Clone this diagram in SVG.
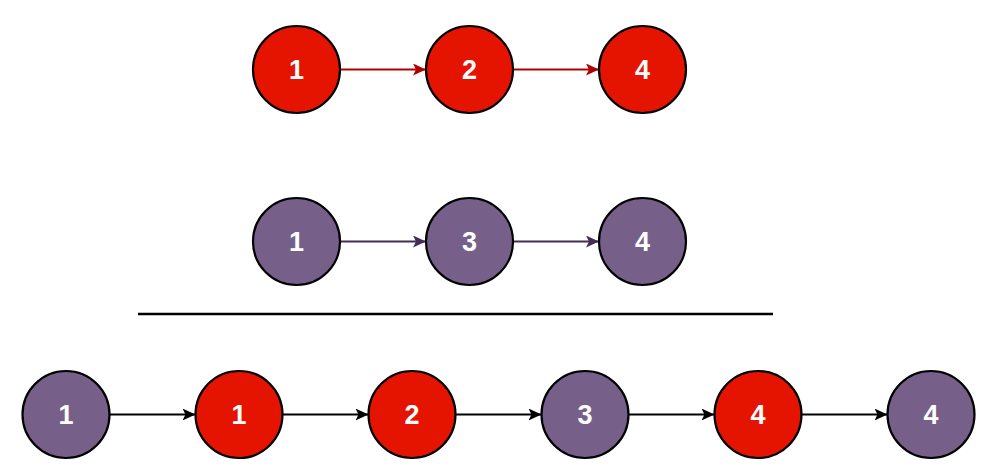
<svg xmlns="http://www.w3.org/2000/svg" width="998" height="471" viewBox="0 0 998 471">
<style>
.red{fill:#e51400;stroke:#000;stroke-width:2.2}
.pur{fill:#76608a;stroke:#000;stroke-width:2.2}
.lbl{font-family:"Liberation Sans",Arial,sans-serif;font-weight:bold;font-size:27px;fill:#fff;text-anchor:middle}
.e{fill:none;stroke-width:2}
</style>
<defs>
<marker id="aR" viewBox="0 0 13 12" refX="12.5" refY="6" markerWidth="13" markerHeight="12" markerUnits="userSpaceOnUse" orient="auto"><path d="M0,0 L13,6 L0,12 L3,6 Z" fill="#b20000"/></marker>
<marker id="aP" viewBox="0 0 13 12" refX="12.5" refY="6" markerWidth="13" markerHeight="12" markerUnits="userSpaceOnUse" orient="auto"><path d="M0,0 L13,6 L0,12 L3,6 Z" fill="#432d57"/></marker>
<marker id="aK" viewBox="0 0 13 12" refX="12.5" refY="6" markerWidth="13" markerHeight="12" markerUnits="userSpaceOnUse" orient="auto"><path d="M0,0 L13,6 L0,12 L3,6 Z" fill="#000"/></marker>
</defs>
<g id="connectors">
<path class="e" stroke="#b20000" marker-end="url(#aR)" d="M340.5,69.5 H425.5"/>
<path class="e" stroke="#b20000" marker-end="url(#aR)" d="M513.5,69.5 H598.5"/>
<path class="e" stroke="#432d57" marker-end="url(#aP)" d="M340.5,241.5 H425.5"/>
<path class="e" stroke="#432d57" marker-end="url(#aP)" d="M513.5,241.5 H598.5"/>
<path class="e" stroke="#000" marker-end="url(#aK)" d="M110,414.5 H195"/>
<path class="e" stroke="#000" marker-end="url(#aK)" d="M283,414.5 H368"/>
<path class="e" stroke="#000" marker-end="url(#aK)" d="M456,414.5 H541"/>
<path class="e" stroke="#000" marker-end="url(#aK)" d="M629,414.5 H714"/>
<path class="e" stroke="#000" marker-end="url(#aK)" d="M802,414.5 H887"/>
</g>
<g id="divider"><line x1="138" y1="314" x2="773" y2="314" stroke="#000" stroke-width="2.5"/></g>
<g id="a1"><circle class="red" cx="296.5" cy="69.5" r="43.5"/><text class="lbl" x="296.5" y="79">1</text></g>
<g id="a2"><circle class="red" cx="469.5" cy="69.5" r="43.5"/><text class="lbl" x="469.5" y="79">2</text></g>
<g id="a4"><circle class="red" cx="642.5" cy="69.5" r="43.5"/><text class="lbl" x="642.5" y="79">4</text></g>
<g id="b1"><circle class="pur" cx="296.5" cy="241.5" r="43.5"/><text class="lbl" x="296.5" y="251">1</text></g>
<g id="b3"><circle class="pur" cx="469.5" cy="241.5" r="43.5"/><text class="lbl" x="469.5" y="251">3</text></g>
<g id="b4"><circle class="pur" cx="642.5" cy="241.5" r="43.5"/><text class="lbl" x="642.5" y="251">4</text></g>
<g id="c1"><circle class="pur" cx="66" cy="414.5" r="43.5"/><text class="lbl" x="66" y="424">1</text></g>
<g id="c2"><circle class="red" cx="239" cy="414.5" r="43.5"/><text class="lbl" x="239" y="424">1</text></g>
<g id="c3"><circle class="red" cx="412" cy="414.5" r="43.5"/><text class="lbl" x="412" y="424">2</text></g>
<g id="c4"><circle class="pur" cx="585" cy="414.5" r="43.5"/><text class="lbl" x="585" y="424">3</text></g>
<g id="c5"><circle class="red" cx="758" cy="414.5" r="43.5"/><text class="lbl" x="758" y="424">4</text></g>
<g id="c6"><circle class="pur" cx="931" cy="414.5" r="43.5"/><text class="lbl" x="931" y="424">4</text></g>
</svg>
